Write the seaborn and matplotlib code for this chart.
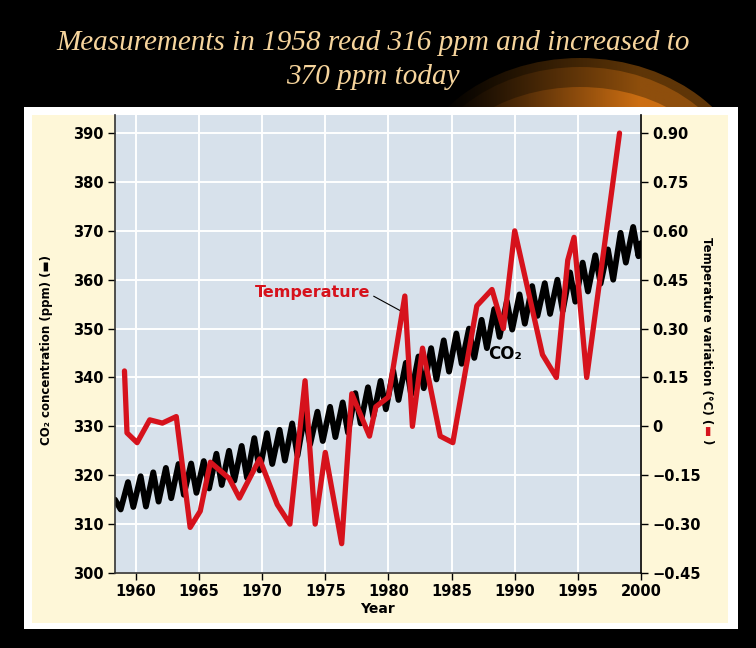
import numpy as np
import pandas as pd
import matplotlib
matplotlib.use('Agg')
import matplotlib.pyplot as plt
import seaborn as sns
from matplotlib.patches import Ellipse, Rectangle
from matplotlib.colors import LinearSegmentedColormap

# CO2 at Mauna Loa, seasonal high / low per year (ppm)
co2_low_years = list(range(1958, 2000))
co2_low = [313.0, 313.5, 313.6, 314.6, 315.3, 316.0, 316.4, 317.3, 318.0, 318.9,
           319.5, 321.0, 322.3, 323.0, 324.0, 326.3, 327.0, 327.8, 328.7, 330.6,
           332.0, 333.5, 335.4, 336.5, 337.8, 339.6, 341.2, 342.8, 344.0, 346.0,
           348.3, 349.8, 351.0, 352.6, 353.0, 353.6, 355.5, 357.6, 359.2, 360.0,
           363.5, 364.8]
co2_high_years = list(range(1959, 2000))
co2_high = [318.6, 319.8, 320.6, 321.5, 322.3, 322.4, 322.9, 324.4, 325.0,
            326.0, 327.6, 328.6, 329.3, 330.6, 332.6, 333.0, 334.0, 334.9, 336.8,
            338.0, 339.3, 341.4, 343.0, 344.3, 346.0, 347.6, 349.0, 350.0, 351.8,
            354.0, 355.6, 357.0, 358.7, 359.3, 360.0, 361.5, 363.5, 365.0, 366.2,
            369.6, 370.8]
co2_first = (1958.35, 315.0)
co2_last = (2000.0, 367.5)

# temperature variation (deg C)
temp_years = [1959.1, 1959.3, 1960.1, 1961.1, 1962.1, 1963.2, 1964.3, 1965.1,
              1965.9, 1967.4, 1968.2, 1969.8, 1971.2, 1972.2, 1973.4, 1974.2,
              1975.0, 1976.3, 1977.1, 1978.5, 1979.0, 1980.0, 1981.3, 1981.9,
              1982.7, 1984.1, 1985.1, 1987.0, 1988.2, 1989.1, 1990.0, 1992.2,
              1993.3, 1994.2, 1994.7, 1995.7, 1998.3]
temp_vals = [0.17, -0.02, -0.05, 0.02, 0.01, 0.03, -0.31, -0.26, -0.11, -0.16,
             -0.22, -0.10, -0.24, -0.30, 0.14, -0.30, -0.08, -0.36, 0.10, -0.03,
             0.06, 0.09, 0.40, 0.00, 0.24, -0.03, -0.05, 0.37, 0.42, 0.30, 0.60,
             0.22, 0.15, 0.51, 0.58, 0.15, 0.90]

x_ticks = [1960, 1965, 1970, 1975, 1980, 1985, 1990, 1995, 2000]
co2_ticks = [300, 310, 320, 330, 340, 350, 360, 370, 380, 390]
temp_ticks = [-0.45, -0.30, -0.15, 0, 0.15, 0.30, 0.45, 0.60, 0.75, 0.90]
temp_ticklabels = ['\u22120.45', '\u22120.30', '\u22120.15', '0', '0.15', '0.30',
                   '0.45', '0.60', '0.75', '0.90']

# build the seasonal zigzag: high in spring, low in autumn
pts = [co2_first]
pts += [(y + 0.8, v) for y, v in zip(co2_low_years, co2_low)]
pts += [(y + 0.38, v) for y, v in zip(co2_high_years, co2_high)]
pts.append(co2_last)
co2 = pd.DataFrame(sorted(pts), columns=['year', 'ppm'])
temp = pd.DataFrame({'year': temp_years, 'temp': temp_vals})

sns.set_style('darkgrid', {'axes.facecolor': '#D7E1EB', 'grid.color': 'white'})
plt.rcParams['font.family'] = ['DejaVu Sans']
plt.rcParams['font.weight'] = 'bold'
plt.rcParams['text.color'] = 'black'
plt.rcParams['xtick.color'] = 'black'
plt.rcParams['ytick.color'] = 'black'

W, H = 756, 648
fig = plt.figure(figsize=(W / 100, H / 100), dpi=100, facecolor='black')

# slide background: orange swoosh, white frame, cream panel
bg = fig.add_axes([0, 0, 1, 1], zorder=-10)
bg.set_facecolor('black')
grad = np.clip(np.linspace(0, 1.5, 256), 0, 1).reshape(1, -1)
for a, b, col in [(175, 142, '#5E3507'), (165, 133, '#8E4E0C'), (152, 113, '#CC6E12')]:
    e = Ellipse((580, 200), 2 * a, 2 * b, facecolor='none', edgecolor='none')
    bg.add_patch(e)
    cmap = LinearSegmentedColormap.from_list('band', ['black', col])
    im = bg.imshow(grad, cmap=cmap, extent=(440, 740, 108, 40), aspect='auto')
    im.set_clip_path(e)
bg.add_patch(Rectangle((24, 107), 714, 522, facecolor='white', edgecolor='none'))
bg.add_patch(Rectangle((32, 115), 696, 508, facecolor='#FEF7D8', edgecolor='none'))
bg.set_xlim(0, W)
bg.set_ylim(H, 0)
bg.axis('off')

fig.text(373 / W, 1 - 43 / H, 'Measurements in 1958 read 316 ppm and increased to',
         ha='center', va='center', color='#F6D49C', fontsize=21,
         family='Liberation Serif', style='italic', weight='normal')
fig.text(373 / W, 1 - 77 / H, '370 ppm today',
         ha='center', va='center', color='#F6D49C', fontsize=21,
         family='Liberation Serif', style='italic', weight='normal')

ax = fig.add_axes([115 / W, 75 / H, 526 / W, 458 / H])
sns.lineplot(data=co2, x='year', y='ppm', ax=ax, color='black', linewidth=4.2,
             sort=False, estimator=None)
ax.set_xlim(1958.35, 2000)
ax.set_ylim(300, 393.7)
ax.set_xticks(x_ticks)
ax.set_yticks(co2_ticks)
ax.grid(True, color='white', linewidth=1.4)
ax.set_xlabel('')
ax.set_ylabel('')
ax.tick_params(bottom=True, left=True, direction='out', length=5, width=1,
               color='black', labelcolor='black', labelsize=10.5, pad=3)
for s in ['left', 'bottom']:
    ax.spines[s].set_visible(True)
    ax.spines[s].set_color('#333333')
    ax.spines[s].set_linewidth(1.2)
ax.spines['top'].set_visible(False)
ax.spines['right'].set_visible(False)

ax2 = ax.twinx()
sns.lineplot(data=temp, x='year', y='temp', ax=ax2, color='#D6121C', linewidth=3.8,
             sort=False, estimator=None)
ax2.set_ylim(-0.45, -0.45 + 93.7 * 0.015)
ax2.set_yticks(temp_ticks)
ax2.set_yticklabels(temp_ticklabels)
ax2.grid(False)
ax2.set_ylabel('')
ax2.tick_params(right=True, direction='out', length=5, width=1, color='black',
                labelcolor='black', labelsize=10.5, pad=3)
ax2.spines['right'].set_visible(True)
ax2.spines['right'].set_color('black')
ax2.spines['right'].set_linewidth(1.2)
for s in ['left', 'top', 'bottom']:
    ax2.spines[s].set_visible(False)

ax.annotate('Temperature', xy=(1981.2, 353.3), xytext=(1974.0, 357.3),
            ha='center', va='center', color='#D6121C', fontsize=11.5,
            arrowprops=dict(arrowstyle='-', color='black', lw=0.8,
                            shrinkA=0, shrinkB=0, relpos=(1.0, 0.4)))
ax.annotate('CO\u2082', xy=(1987.6, 348.9), xytext=(1989.2, 344.8),
            ha='center', va='center', color='black', fontsize=12,
            arrowprops=dict(arrowstyle='-', color='black', lw=0.8,
                            shrinkA=0, shrinkB=0, relpos=(0.1, 0.8)))

fig.text(377 / W, 1 - 609 / H, 'Year', ha='center', va='center', fontsize=10)
fig.text(47 / W, 1 - 350 / H, 'CO\u2082 concentration (ppm) (\u25ac)', rotation=90,
         ha='center', va='center', fontsize=8.5)

# right label, with the red key mark
t1 = fig.text(707 / W, 1 - 237 / H, 'Temperature variation (\u00b0C) (', rotation=270,
              ha='center', va='top', fontsize=8.5)
fig.canvas.draw()
y0 = t1.get_window_extent().y0 / H
t2 = fig.text(707 / W, y0 - 0.003, '\u25ac', rotation=270, ha='center', va='top',
              fontsize=8.5, color='#D6121C')
fig.canvas.draw()
y1 = t2.get_window_extent().y0 / H
fig.text(707 / W, y1 - 0.003, ')', rotation=270, ha='center', va='top', fontsize=8.5)

fig.savefig('out.png', dpi=100, facecolor='black')
